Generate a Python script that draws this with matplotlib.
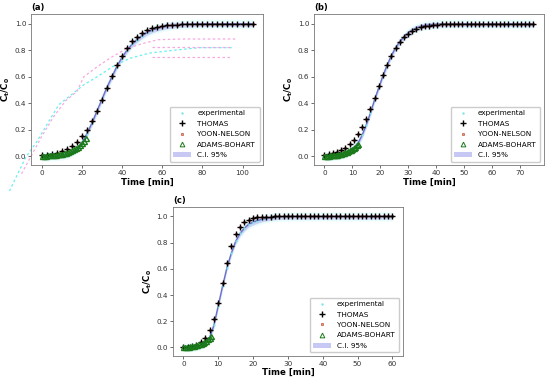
import matplotlib
matplotlib.use("Agg")
import matplotlib.pyplot as plt
from matplotlib.lines import Line2D
from matplotlib.patches import Patch

# ---- panel (a) ----
t_a = [i * 2.5 for i in range(43)]
thomas_a = [0.010, 0.014, 0.020, 0.029, 0.040, 0.057, 0.080, 0.110, 0.151, 0.203,
            0.267, 0.343, 0.428, 0.518, 0.606, 0.688, 0.760, 0.819, 0.867, 0.903,
            0.930, 0.950, 0.965, 0.975, 0.983, 0.988, 0.991, 0.994, 0.996, 0.997,
            0.998, 0.998, 0.999, 0.999, 1.0, 1.0, 1.0, 1.0, 1.0, 1.0, 1.0, 1.0, 1.0]
yoon_a = list(thomas_a)
fit_a = [0.0, 0.001, 0.002, 0.004, 0.008, 0.015, 0.030, 0.055, 0.100, 0.170,
         0.250, 0.340, 0.430, 0.520, 0.600, 0.680, 0.745, 0.800, 0.845, 0.880,
         0.910, 0.935, 0.952, 0.965, 0.975, 0.982, 0.988, 0.992, 0.995, 0.997,
         0.998, 1.0, 1.0, 1.0, 1.0, 1.0, 1.0, 1.0, 1.0, 1.0, 1.0, 1.0, 1.0]
tab_a = list(range(23))
adams_a = [0.005, 0.006, 0.007, 0.008, 0.009, 0.011, 0.012, 0.014, 0.017, 0.019,
           0.022, 0.026, 0.030, 0.035, 0.041, 0.047, 0.055, 0.064, 0.074, 0.087,
           0.100, 0.117, 0.136]
# stray dashed traces of panel (a)
cyan_x = [-16, -8, -2, 3, 8.6, 14.4, 21, 27.6, 35.7, 44, 54, 65.5, 78.7, 95]
cyan_y = [-0.26, -0.01, 0.12, 0.25, 0.39, 0.46, 0.54, 0.60, 0.68, 0.74, 0.78, 0.80, 0.82, 0.82]
pink_x = [-10, -4.6, 0, 6, 12, 17.6, 21, 28, 35, 42, 50, 58, 70, 97]
pink_y = [-0.13, 0.02, 0.15, 0.30, 0.42, 0.49, 0.60, 0.68, 0.75, 0.81, 0.85, 0.88, 0.885, 0.885]
pink_levels = [0.825, 0.75]

# ---- panel (b) ----
t_b = [i * 1.5 for i in range(51)]
thomas_b = [0.013, 0.018, 0.025, 0.034, 0.048, 0.066, 0.091, 0.124, 0.167, 0.220,
            0.285, 0.360, 0.443, 0.529, 0.613, 0.691, 0.759, 0.817, 0.863, 0.899,
            0.926, 0.947, 0.962, 0.973, 0.980, 0.986, 0.990, 0.993, 0.995, 0.996,
            0.997, 0.998, 0.999, 0.999, 1.0, 1.0, 1.0, 1.0, 1.0, 1.0,
            1.0, 1.0, 1.0, 1.0, 1.0, 1.0, 1.0, 1.0, 1.0, 1.0, 1.0]
yoon_b = list(thomas_b)
fit_b = [0.0, 0.001, 0.003, 0.006, 0.012, 0.022, 0.040, 0.065, 0.100, 0.160,
         0.240, 0.330, 0.430, 0.520, 0.610, 0.690, 0.760, 0.820, 0.865, 0.900,
         0.930, 0.952, 0.968, 0.979, 0.986, 0.991, 0.994, 0.996, 0.998, 0.999,
         1.0, 1.0, 1.0, 1.0, 1.0, 1.0, 1.0, 1.0, 1.0, 1.0,
         1.0, 1.0, 1.0, 1.0, 1.0, 1.0, 1.0, 1.0, 1.0, 1.0, 1.0]
tab_b = [i * 0.5 for i in range(25)]
adams_b = [0.005, 0.006, 0.006, 0.007, 0.008, 0.009, 0.010, 0.012, 0.013, 0.015,
           0.017, 0.019, 0.022, 0.025, 0.028, 0.032, 0.036, 0.040, 0.046, 0.051,
           0.058, 0.066, 0.074, 0.084, 0.095]

# ---- panel (c) ----
t_c = [i * 1.25 for i in range(49)]
thomas_c = [0.004, 0.007, 0.012, 0.022, 0.041, 0.074, 0.130, 0.218, 0.343, 0.494,
            0.646, 0.773, 0.864, 0.922, 0.957, 0.976, 0.987, 0.993, 0.996, 0.998,
            0.999, 1.0, 1.0, 1.0, 1.0, 1.0, 1.0, 1.0, 1.0, 1.0,
            1.0, 1.0, 1.0, 1.0, 1.0, 1.0, 1.0, 1.0, 1.0, 1.0,
            1.0, 1.0, 1.0, 1.0, 1.0, 1.0, 1.0, 1.0, 1.0]
yoon_c = list(thomas_c)
fit_c = [0.0, 0.001, 0.003, 0.007, 0.015, 0.035, 0.075, 0.170, 0.320, 0.470,
         0.610, 0.720, 0.810, 0.870, 0.910, 0.940, 0.955, 0.968, 0.978, 0.985,
         0.990, 0.994, 0.997, 0.998, 0.999, 1.0, 1.0, 1.0, 1.0, 1.0,
         1.0, 1.0, 1.0, 1.0, 1.0, 1.0, 1.0, 1.0, 1.0, 1.0,
         1.0, 1.0, 1.0, 1.0, 1.0, 1.0, 1.0, 1.0, 1.0]
tab_c = [i * 0.5 for i in range(17)]
adams_c = [0.004, 0.005, 0.006, 0.007, 0.009, 0.011, 0.013, 0.016, 0.019, 0.023,
           0.028, 0.034, 0.042, 0.050, 0.061, 0.074, 0.090]

ci_half = 0.02

fig = plt.figure(figsize=(5.5, 3.84), dpi=100)
ax_a = fig.add_axes([0.0564, 0.570, 0.422, 0.393])
ax_b = fig.add_axes([0.571, 0.570, 0.418, 0.393])
ax_c = fig.add_axes([0.3145, 0.073, 0.418, 0.388])


def panel(ax, t, thomas, yoon, fit, tab, adams, xmax, xticks, label):
    lo = [v - ci_half for v in fit]
    hi = [min(v + ci_half, 1.01) for v in fit]
    ax.fill_between(t, [v - 0.035 for v in fit], [v + 0.035 for v in fit],
                    color="#7ff0f0", alpha=0.15, lw=0)
    ax.fill_between(t, lo, hi, color="#a8a8ee", alpha=0.5, lw=0)
    ax.plot(t, fit, color="#6a70c8", lw=1.0)
    ax.plot(t, fit, ".", color="#7fe8e8", ms=1.2)
    ax.plot(t, yoon, "o", ms=1.8, mfc="#e0a060", mec="#c04040", mew=0.4)
    ax.plot(t, thomas, "+", color="black", ms=3.8, mew=1.0)
    ax.plot(tab, adams, "^", ms=3.6, mfc="none", mec="#1a7a1a", mew=1.0)
    ax.set_xlim(-0.05 * xmax, 1.05 * xmax)
    ax.set_ylim(-0.065, 1.072)
    ax.set_xticks(xticks)
    ax.set_yticks([0.0, 0.2, 0.4, 0.6, 0.8, 1.0])
    ax.tick_params(labelsize=5.2, length=2, width=0.5, pad=1.5, colors="#333333")
    for s in ax.spines.values():
        s.set_linewidth(0.6)
        s.set_color("#777777")
    ax.set_xlabel("Time [min]", fontsize=6.2, fontweight="bold", labelpad=1)
    ax.set_ylabel(r"$\mathbf{C_t/C_0}$", fontsize=6.2, labelpad=2)
    ax.text(0.0, 1.015, label, transform=ax.transAxes, fontsize=6,
            fontweight="bold", va="bottom", ha="left")
    handles = [
        Line2D([], [], ls="none", marker=".", ms=1.5, color="#7fe8e8"),
        Line2D([], [], ls="none", marker="+", ms=3.8, mew=1.0, color="black"),
        Line2D([], [], ls="none", marker="o", ms=1.8, mfc="#e0a060", mec="#c04040", mew=0.4),
        Line2D([], [], ls="none", marker="^", ms=3.4, mfc="none", mec="#1a7a1a", mew=0.7),
        Patch(facecolor="#c8c8f4", edgecolor="none"),
    ]
    ax.legend(handles, ["experimental", "THOMAS", "YOON-NELSON", "ADAMS-BOHART", "C.I. 95%"],
              loc="lower right", fontsize=5.2, frameon=True, handlelength=2.4,
              borderpad=0.5, labelspacing=0.6, handletextpad=0.9,
              edgecolor="#cccccc", fancybox=True, framealpha=1)


panel(ax_a, t_a, thomas_a, yoon_a, fit_a, tab_a, adams_a, 105, [0, 20, 40, 60, 80, 100], "(a)")
panel(ax_b, t_b, thomas_b, yoon_b, fit_b, tab_b, adams_b, 75, [0, 10, 20, 30, 40, 50, 60, 70], "(b)")
panel(ax_c, t_c, thomas_c, yoon_c, fit_c, tab_c, adams_c, 60, [0, 10, 20, 30, 40, 50, 60], "(c)")

# stray dashed traces in panel (a), drawn past the axes
ax_a.plot(cyan_x, cyan_y, "--", color="#66f0f0", lw=0.9, dashes=(2, 2), clip_on=False, zorder=1)
ax_a.plot(pink_x, pink_y, "--", color="#f8a8e0", lw=0.9, dashes=(2, 2), clip_on=False, zorder=1)
for lv in pink_levels:
    ax_a.plot([55, 95], [lv, lv], "--", color="#f8a8e0", lw=0.9, dashes=(2, 2), zorder=1)

fig.savefig("out.png", dpi=100)
